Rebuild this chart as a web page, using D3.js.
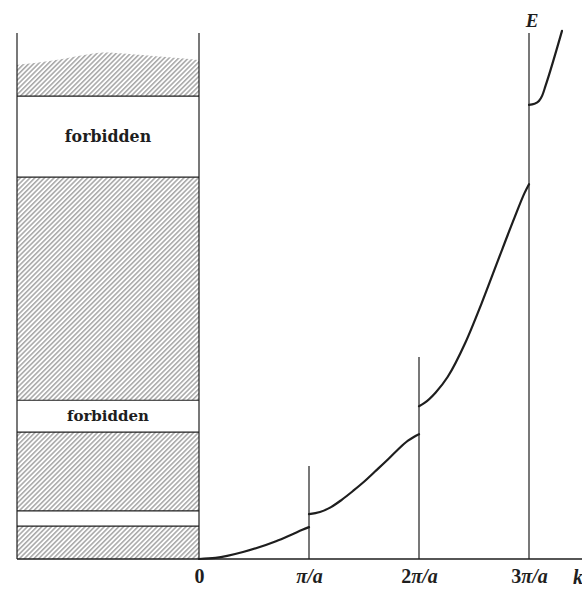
<!DOCTYPE html>
<html>
<head>
<meta charset="utf-8">
<script src="https://cdn.jsdelivr.net/npm/d3@7"></script>
<style>
  html, body { margin: 0; padding: 0; background: #fff; }
  svg { display: block; }
</style>
</head>
<body>
<script>
// Energy bands of a nearly free electron in a 1-D lattice (extended zone scheme)

// wavevector ticks, in units of pi/a
const kTicks = [0, 1, 2, 3];
const kTickLabels = ["0", "π/a", "2π/a", "3π/a"];

// E(k) branches, [k in pi/a, E in arbitrary units]
const branch1 = [[0, 0], [0.15, 0.2], [0.4, 1.3], [0.7, 3.3], [0.85, 4.6], [0.94, 5.4], [1, 5.9]];
const branch2 = [[1, 8.3], [1.1, 8.7], [1.2, 9.6], [1.3, 11.0], [1.4, 12.6], [1.5, 14.3], [1.6, 16.2], [1.7, 18.1], [1.8, 20.1], [1.9, 21.9], [1.96, 22.7], [2, 23.1]];
const branch3 = [[2, 28.3], [2.05, 28.9], [2.15, 30.8], [2.26, 33.7], [2.42, 40.0], [2.57, 47.4], [2.72, 55.4], [2.87, 63.3], [2.96, 67.8], [3, 69.4]];
const branch4 = [[3, 84.1], [3.05, 84.3], [3.09, 84.8], [3.12, 85.8], [3.15, 87.6], [3.3, 97.8]];
const branches = [branch1, branch2, branch3, branch4];

// heights of the vertical lines at each zone boundary
const boundaryTops = [97.4, 17.2, 37.4, 97.4];

// allowed energy bands (hatched) and forbidden gaps
const allowedBands = [[0, 6.1], [8.9, 23.5], [29.4, 70.7]];
const upperBandBottom = 85.7;
// ragged top of the highest band: [position across panel 0..1, E]
const upperBandTop = [[0, 91.5], [0.23, 92.4], [0.42, 93.7], [0.51, 93.9], [0.69, 93.3], [0.87, 92.8], [1, 92.4]];
const forbiddenGaps = [[6.1, 8.9], [23.5, 29.4], [70.7, 85.7]];
const forbiddenLabels = ["", "forbidden", "forbidden"];

const W = 582, H = 590;
const svg = d3.select("body").append("svg").attr("width", W).attr("height", H);

const x = d3.scaleLinear().domain([0, 3]).range([199, 529]);
const y = d3.scaleLinear().domain([0, 100]).range([559, 19]);
const panel = d3.scaleLinear().domain([0, 1]).range([17, x(0)]);

const ink = "#1e1e1e";

// diagonal hatching
const defs = svg.append("defs");
const pat = defs.append("pattern")
  .attr("id", "hatch")
  .attr("patternUnits", "userSpaceOnUse")
  .attr("width", 3.4).attr("height", 10)
  .attr("patternTransform", "rotate(45)");
pat.append("line")
  .attr("x1", 0.8).attr("y1", 0).attr("x2", 0.8).attr("y2", 10)
  .attr("stroke", "#939393").attr("stroke-width", 1.25);

// hatched allowed bands
svg.append("g").selectAll("rect").data(allowedBands).join("rect")
  .attr("x", panel(0))
  .attr("width", panel(1) - panel(0))
  .attr("y", d => y(d[1]))
  .attr("height", d => y(d[0]) - y(d[1]))
  .attr("fill", "url(#hatch)");

const topArea = d3.area()
  .x(d => panel(d[0]))
  .y0(y(upperBandBottom))
  .y1(d => y(d[1]))
  .curve(d3.curveBasis);
svg.append("path").datum(upperBandTop)
  .attr("d", topArea)
  .attr("fill", "url(#hatch)");

// band edge lines
const edges = forbiddenGaps.flat();
svg.append("g").selectAll("line").data(edges).join("line")
  .attr("x1", panel(0)).attr("x2", panel(1))
  .attr("y1", d => y(d)).attr("y2", d => y(d))
  .attr("stroke", ink).attr("stroke-width", 1.2);

// gap labels
svg.append("g").selectAll("text").data(forbiddenGaps.map((g, i) => ({ g, t: forbiddenLabels[i] })).filter(d => d.t))
  .join("text")
  .attr("x", panel(0.5))
  .attr("y", d => (y(d.g[0]) + y(d.g[1])) / 2 + 5)
  .attr("text-anchor", "middle")
  .attr("font-family", "'DejaVu Serif', serif")
  .attr("font-weight", "bold")
  .attr("font-size", (d, i) => i === 1 ? 15.8 : 15)
  .attr("fill", ink)
  .text(d => d.t);

// left edge of the band panel
svg.append("line")
  .attr("x1", panel(0)).attr("x2", panel(0))
  .attr("y1", y(boundaryTops[0])).attr("y2", y(0))
  .attr("stroke", ink).attr("stroke-width", 1.2);

// zone boundary verticals
svg.append("g").selectAll("line").data(kTicks).join("line")
  .attr("x1", d => x(d)).attr("x2", d => x(d))
  .attr("y1", d => y(boundaryTops[d])).attr("y2", y(0))
  .attr("stroke", ink).attr("stroke-width", 1.2);

// k axis
const axis = d3.axisBottom(x).tickValues(kTicks).tickSize(0).tickPadding(10)
  .tickFormat((d, i) => kTickLabels[i]);
const gAxis = svg.append("g").attr("transform", `translate(0,${y(0)})`).call(axis);
gAxis.select(".domain").remove();
gAxis.selectAll("text")
  .attr("font-family", "'Liberation Serif', serif")
  .attr("font-weight", "bold")
  .attr("font-size", 20)
  .attr("fill", ink)
  .each(function () {
    const s = d3.select(this);
    const t = s.text();
    const m = t.match(/^(\d*)(.*)$/);
    s.text(null);
    if (m[1]) s.append("tspan").text(m[1]);
    if (m[2]) s.append("tspan").attr("font-style", "italic").text(m[2]);
  });

// baseline across the whole figure
svg.append("line")
  .attr("x1", panel(0)).attr("x2", W)
  .attr("y1", y(0)).attr("y2", y(0))
  .attr("stroke", ink).attr("stroke-width", 1.4);

// E(k) curve
const line = d3.line().x(d => x(d[0])).y(d => y(d[1])).curve(d3.curveMonotoneX);
svg.append("g").selectAll("path").data(branches).join("path")
  .attr("d", line)
  .attr("fill", "none")
  .attr("stroke", ink)
  .attr("stroke-width", 2.2)
  .attr("stroke-linecap", "round");

// axis names
svg.append("text")
  .attr("x", x(3) + 3).attr("y", 27)
  .attr("text-anchor", "middle")
  .attr("font-family", "'Liberation Serif', serif")
  .attr("font-weight", "bold").attr("font-style", "italic")
  .attr("font-size", 19).attr("fill", ink)
  .text("E");
svg.append("text")
  .attr("x", 573).attr("y", y(0) + 25)
  .attr("font-family", "'Liberation Serif', serif")
  .attr("font-weight", "bold").attr("font-style", "italic")
  .attr("font-size", 20).attr("fill", ink)
  .text("k");
</script>
</body>
</html>
